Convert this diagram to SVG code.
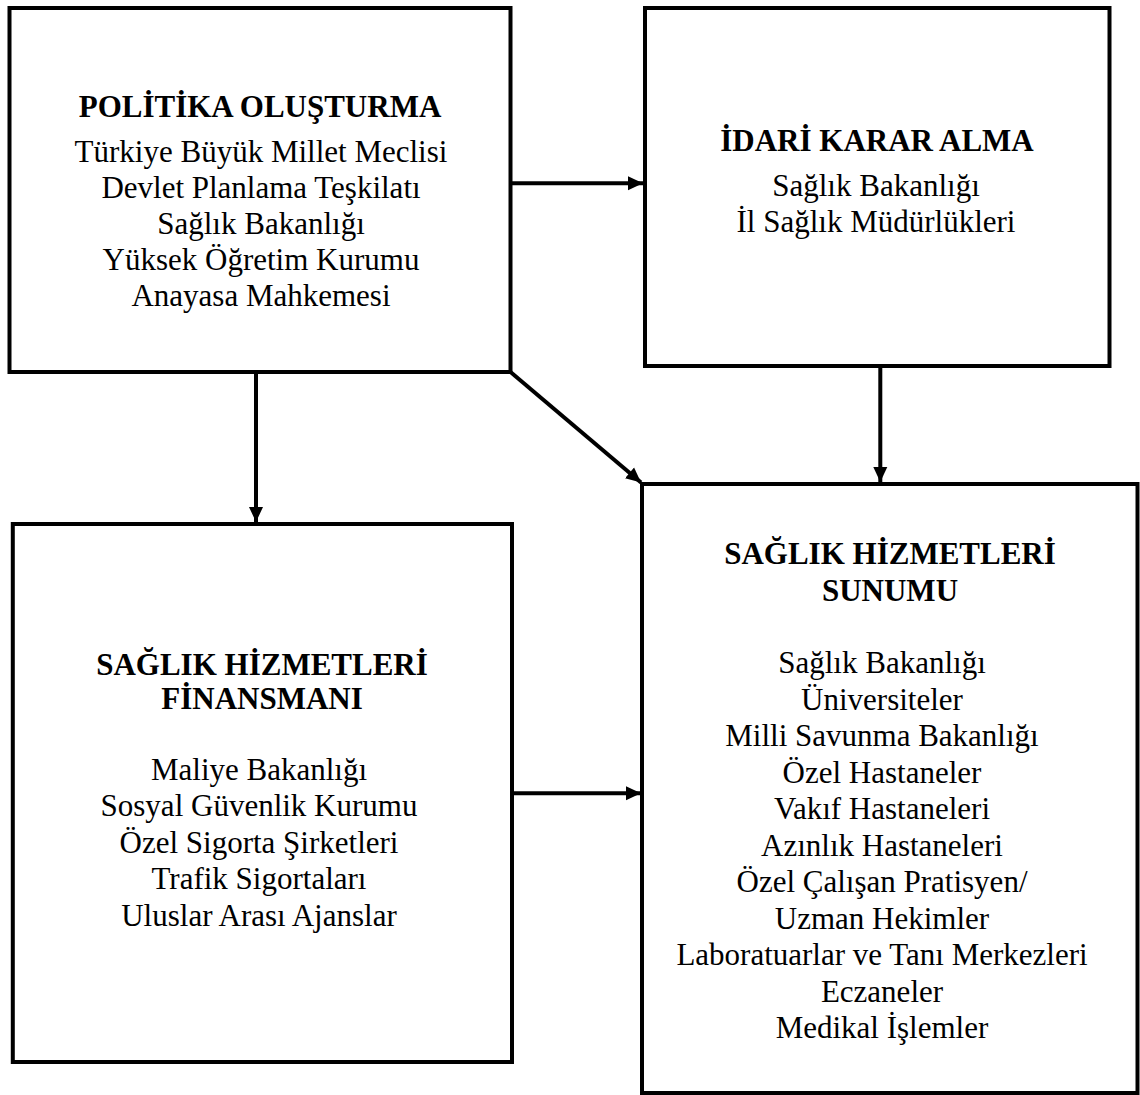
<svg xmlns="http://www.w3.org/2000/svg" width="1140" height="1095" viewBox="0 0 1140 1095">
<style>
.box{fill:#fff;stroke:#000;stroke-width:4}
.t{font-family:"Liberation Serif","Times New Roman",serif;font-weight:bold;font-size:31px;text-anchor:middle;fill:#000}
.b{font-family:"Liberation Serif","Times New Roman",serif;font-size:31px;text-anchor:middle;fill:#000}
.c{stroke:#000;stroke-width:4;fill:none}
</style>
<defs>
<marker id="ah" markerUnits="userSpaceOnUse" markerWidth="16" markerHeight="16" viewBox="0 0 16 16" refX="15" refY="8" orient="auto">
<path d="M0,1 L15,8 L0,15 Z" fill="#000"/>
</marker>
</defs>
<rect width="1140" height="1095" fill="#fff"/>
<g id="policy">
<rect class="box" x="9.5" y="8" width="501" height="364"/>
<text class="t" x="260" y="117">POLİTİKA OLUŞTURMA</text>
<text class="b" x="261" y="162">Türkiye Büyük Millet Meclisi</text>
<text class="b" x="261" y="198">Devlet Planlama Teşkilatı</text>
<text class="b" x="261" y="234">Sağlık Bakanlığı</text>
<text class="b" x="261" y="270">Yüksek Öğretim Kurumu</text>
<text class="b" x="261" y="306">Anayasa Mahkemesi</text>
</g>
<g id="admin">
<rect class="box" x="645" y="8" width="464.5" height="358"/>
<text class="t" x="877" y="151">İDARİ KARAR ALMA</text>
<text class="b" x="876" y="196">Sağlık Bakanlığı</text>
<text class="b" x="876" y="232">İl Sağlık Müdürlükleri</text>
</g>
<g id="finance">
<rect class="box" x="12.8" y="524" width="499.2" height="538"/>
<text class="t" x="262" y="675">SAĞLIK HİZMETLERİ</text>
<text class="t" x="262" y="709">FİNANSMANI</text>
<text class="b" x="259" y="780">Maliye Bakanlığı</text>
<text class="b" x="259" y="816">Sosyal Güvenlik Kurumu</text>
<text class="b" x="259" y="853">Özel Sigorta Şirketleri</text>
<text class="b" x="259" y="889">Trafik Sigortaları</text>
<text class="b" x="259" y="926">Uluslar Arası Ajanslar</text>
</g>
<g id="delivery">
<rect class="box" x="642" y="484" width="495.5" height="609"/>
<text class="t" x="890" y="564">SAĞLIK HİZMETLERİ</text>
<text class="t" x="890" y="601">SUNUMU</text>
<text class="b" x="882" y="673">Sağlık Bakanlığı</text>
<text class="b" x="882" y="710">Üniversiteler</text>
<text class="b" x="882" y="746">Milli Savunma Bakanlığı</text>
<text class="b" x="882" y="783">Özel Hastaneler</text>
<text class="b" x="882" y="819">Vakıf Hastaneleri</text>
<text class="b" x="882" y="856">Azınlık Hastaneleri</text>
<text class="b" x="882" y="892">Özel Çalışan Pratisyen/</text>
<text class="b" x="882" y="929">Uzman Hekimler</text>
<text class="b" x="882" y="965">Laboratuarlar ve Tanı Merkezleri</text>
<text class="b" x="882" y="1002">Eczaneler</text>
<text class="b" x="882" y="1038">Medikal İşlemler</text>
</g>
<g id="connectors">
<line class="c" x1="510.5" y1="183.3" x2="643" y2="183.3" marker-end="url(#ah)"/>
<line class="c" x1="256" y1="372" x2="256" y2="522" marker-end="url(#ah)"/>
<line class="c" x1="510.5" y1="372" x2="641" y2="482.5" marker-end="url(#ah)"/>
<line class="c" x1="880.3" y1="366" x2="880.3" y2="482" marker-end="url(#ah)"/>
<line class="c" x1="512" y1="793.3" x2="641" y2="793.3" marker-end="url(#ah)"/>
</g>
</svg>
